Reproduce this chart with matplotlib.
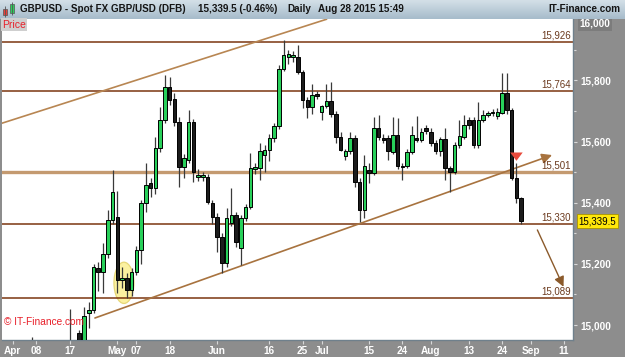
import numpy as np
import pandas as pd
import matplotlib
matplotlib.use("Agg")
import matplotlib.pyplot as plt
from matplotlib.patches import Ellipse, Rectangle
import matplotlib.transforms as mtransforms

plt.rcParams['font.family'] = ['Liberation Sans', 'DejaVu Sans']

# GBPUSD daily candles, Apr 1 - Aug 28 2015 (price x 10000)
opens = [14850, 14860, 14900, 14900, 14880, 14820, 14790, 14710, 14650, 14620,
         14780, 14840, 14940, 14900, 14974, 14930, 15040, 15050, 15185, 15174,
         15233, 15344, 15354, 15148, 15154, 15115, 15174, 15246, 15400, 15465,
         15449, 15579, 15671, 15779, 15740, 15664, 15517, 15540, 15664, 15485,
         15485, 15485, 15400, 15354, 15288, 15203, 15334, 15360, 15252, 15351,
         15386, 15511, 15514, 15556, 15573, 15612, 15651, 15838, 15877, 15877,
         15877, 15828, 15736, 15713, 15756, 15697, 15717, 15733, 15691, 15615,
         15553, 15570, 15612, 15468, 15377, 15507, 15498, 15645, 15612, 15612,
         15566, 15622, 15521, 15521, 15566, 15612, 15606, 15645, 15632, 15596,
         15570, 15609, 15514, 15501, 15589, 15615, 15671, 15671, 15589, 15671,
         15687, 15694, 15684, 15694, 15759, 15704, 15481, 15416]
highs = [14880, 14920, 14930, 14920, 14962, 14870, 14800, 14730, 14690, 14790,
         14860, 14920, 15053, 14940, 14985, 15060, 15075, 15200, 15205, 15269,
         15377, 15507, 15440, 15190, 15170, 15185, 15260, 15410, 15530, 15480,
         15615, 15713, 15818, 15812, 15760, 15680, 15560, 15704, 15675, 15510,
         15500, 15495, 15410, 15365, 15300, 15383, 15449, 15370, 15360, 15395,
         15563, 15530, 15596, 15590, 15625, 15660, 15850, 15933, 15900, 15895,
         15916, 15835, 15745, 15790, 15765, 15720, 15790, 15795, 15700, 15630,
         15575, 15630, 15620, 15480, 15556, 15530, 15680, 15687, 15625, 15620,
         15680, 15678, 15530, 15575, 15651, 15684, 15645, 15655, 15645, 15605,
         15615, 15645, 15520, 15600, 15671, 15687, 15680, 15680, 15730, 15704,
         15700, 15705, 15710, 15825, 15825, 15710, 15530, 15420]
lows = [14780, 14830, 14780, 14830, 14800, 14760, 14700, 14630, 14570, 14600,
        14760, 14820, 14880, 14850, 14900, 14910, 14990, 15040, 15110, 15105,
        15220, 15330, 15105, 15120, 15089, 15095, 15165, 15200, 15370, 15420,
        15430, 15565, 15660, 15720, 15650, 15452, 15481, 15530, 15468, 15470,
        15472, 15395, 15330, 15239, 15171, 15190, 15325, 15255, 15197, 15340,
        15380, 15495, 15475, 15500, 15535, 15600, 15640, 15830, 15855, 15860,
        15820, 15710, 15678, 15690, 15740, 15670, 15710, 15680, 15596, 15570,
        15540, 15560, 15450, 15338, 15351, 15465, 15490, 15605, 15595, 15540,
        15560, 15510, 15475, 15515, 15560, 15600, 15600, 15625, 15585, 15560,
        15553, 15475, 15436, 15495, 15580, 15610, 15640, 15580, 15580, 15665,
        15680, 15685, 15675, 15690, 15690, 15475, 15400, 15330]
closes = [14860, 14900, 14900, 14880, 14820, 14790, 14710, 14650, 14620, 14780,
          14840, 14900, 14900, 14925, 14930, 15030, 15050, 15190, 15175, 15233,
          15344, 15436, 15148, 15154, 15115, 15174, 15246, 15400, 15458, 15449,
          15579, 15671, 15779, 15736, 15664, 15517, 15547, 15664, 15501, 15491,
          15491, 15403, 15354, 15288, 15203, 15351, 15360, 15272, 15351, 15386,
          15514, 15517, 15570, 15573, 15612, 15651, 15838, 15883, 15887, 15883,
          15828, 15736, 15713, 15753, 15750, 15717, 15733, 15691, 15615, 15573,
          15570, 15612, 15468, 15377, 15521, 15498, 15645, 15615, 15606, 15570,
          15622, 15521, 15517, 15566, 15622, 15606, 15632, 15635, 15596, 15570,
          15609, 15514, 15501, 15589, 15619, 15655, 15655, 15589, 15671, 15687,
          15694, 15697, 15697, 15759, 15704, 15481, 15416, 15339.5]

# horizontal support / resistance levels
levels = [15926, 15764, 15501, 15330, 15089]
level_labels = ['15,926', '15,764', '15,501', '15,330', '15,089']

# trend lines: (bar number, price)
upper_bars = [-2.7, 66.0]
upper_prices = [15658, 16000]
lower_bars = [17.3, 113.5]
lower_prices = [15023, 15556]
down_bars = [110.4, 115.9]
down_prices = [15311, 15125]

tick_dates = ['2015-04-01', '2015-04-08', '2015-04-17', '2015-05-01', '2015-05-07',
              '2015-05-18', '2015-06-01', '2015-06-16', '2015-06-25', '2015-07-01',
              '2015-07-15', '2015-07-24', '2015-08-03', '2015-08-13', '2015-08-24',
              '2015-09-01', '2015-09-11']
tick_labels = ['Apr', '08', '17', 'May', '07', '18', 'Jun', '16', '25', 'Jul',
               '15', '24', 'Aug', '13', '24', 'Sep', '11']

price_ticks = [15000, 15200, 15400, 15600, 15800]
price_tick_labels = ['15,000', '15,200', '15,400', '15,600', '15,800']

days = pd.bdate_range('2015-04-01', '2015-09-18', freq='C', holidays=['2015-09-07'])
tick_pos = [days.get_loc(pd.Timestamp(d)) for d in tick_dates]

W, H = 625, 357
GRAY = '#8d8d8d'
fig = plt.figure(figsize=(W / 100, H / 100), dpi=100, facecolor=GRAY)
ax = fig.add_axes([2 / W, 17 / H, 571 / W, 321 / H], facecolor='white')

x = np.arange(len(opens))
o = np.array(opens); c = np.array(closes)
hi = np.array(highs); lo = np.array(lows)
up = c >= o

# yellow highlight of the double bottom
ax.add_patch(Ellipse((23.4, 15138), 4.2, 135, facecolor='#fbf1a0', edgecolor='#e6d777',
                     lw=0.9, zorder=1))

# levels
for lv in levels:
    if lv == 15501:
        ax.axhline(lv, color='#c49a70', lw=2.4, zorder=2)
    else:
        ax.axhline(lv, color='#7a3510', lw=1.1, zorder=2)
for lv, lb in zip(levels, level_labels):
    ax.text(117.4, lv + 5, lb, ha='right', va='bottom', fontsize=7, color='#6b3a1e', zorder=6)

# channel
ax.plot(upper_bars, upper_prices, color='#b88652', lw=1.2, zorder=2)
ax.annotate('', xy=(lower_bars[1], lower_prices[1]), xytext=(lower_bars[0], lower_prices[0]),
            arrowprops=dict(arrowstyle='-|>,head_length=0.6,head_width=0.3', color='#a8733f',
                            lw=1.2, shrinkA=0, shrinkB=0), zorder=2)
ax.annotate('', xy=(down_bars[1], down_prices[1]), xytext=(down_bars[0], down_prices[0]),
            arrowprops=dict(arrowstyle='-|>,head_length=0.6,head_width=0.3', color='#8b5a2b',
                            lw=1.0, shrinkA=0, shrinkB=0), zorder=2)

# candles
ax.vlines(x, lo, hi, color='#3a3a3a', lw=0.9, zorder=3)
body_lo = np.minimum(o, c)
body_h = np.maximum(np.abs(c - o), 4)
ax.bar(x[up], body_h[up], bottom=body_lo[up], width=0.75, color='#28d05a',
       edgecolor='black', lw=0.7, zorder=4)
ax.bar(x[~up], body_h[~up], bottom=body_lo[~up], width=0.75, color='#1c1c1c',
       edgecolor='black', lw=0.7, zorder=4)

# red signal arrow
ax.annotate('', xy=(106, 15528), xytext=(106, 15572),
            arrowprops=dict(arrowstyle='simple,head_width=0.9,head_length=0.6,tail_width=0.4',
                            color='#e84a3c', lw=0), zorder=5)

ax.set_xlim(-2.26, 117.9)
ax.set_ylim(14951, 16001)

ax.yaxis.tick_right()
ax.set_yticks(price_ticks)
ax.set_yticklabels(price_tick_labels)
ax.set_yticks(np.arange(15100, 16000, 200), minor=True)
ax.tick_params(axis='y', which='both', colors='#d8d8d8', labelcolor='white', length=3,
               width=0.8, pad=2)
ax.tick_params(axis='y', which='minor', length=2)
for lab in ax.get_yticklabels():
    lab.set_fontweight('bold'); lab.set_fontsize(7.2)

ax.set_xticks(tick_pos)
ax.set_xticklabels(tick_labels)
ax.tick_params(axis='x', colors='#d8d8d8', labelcolor='white', length=3, width=0.8, pad=1)
for lab in ax.get_xticklabels():
    lab.set_fontweight('bold'); lab.set_fontsize(7.2)

for s in ['top', 'left']:
    ax.spines[s].set_visible(False)
for s in ['bottom', 'right']:
    ax.spines[s].set_color('#6f808c'); ax.spines[s].set_linewidth(1.0)

trans = mtransforms.blended_transform_factory(ax.transAxes, ax.transData)
ax.text(1.012, 16001, '16,000', transform=trans, ha='left', va='top', fontsize=7.2,
        fontweight='bold', color='white', clip_on=False,
        bbox=dict(facecolor='#7c7c7c', edgecolor='none', pad=1.2))
ax.text(1.01, closes[-1], '15,339.5', transform=trans, ha='left', va='center', fontsize=7,
        color='black', clip_on=False,
        bbox=dict(boxstyle='square,pad=0.2', facecolor='#ffe70a', edgecolor='#a89400', lw=0.6))

ax.text(0.003, 0.04, '\u00a9 IT-Finance.com', transform=ax.transAxes, fontsize=7.3,
        color='#e8202a', ha='left', va='bottom', zorder=6)

# header bar
hax = fig.add_axes([0, 1 - 19 / H, 1, 19 / H])
grad = np.linspace(0, 1, 20).reshape(-1, 1)
hax.imshow(grad, cmap=matplotlib.colors.LinearSegmentedColormap.from_list(
    'hdr', ['#d3dfe7', '#a7bccb']), extent=[0, W, 19, 0], aspect='auto')
hax.set_xlim(0, W); hax.set_ylim(19, 0); hax.axis('off')
hax.add_patch(Rectangle((2.5, 8.5), 4, 6, facecolor='#e8403a', edgecolor='#555', lw=0.5))
hax.vlines([4.5], 6, 17, color='#555', lw=0.6)
hax.add_patch(Rectangle((10, 4), 4, 9, facecolor='#2ad05a', edgecolor='#555', lw=0.5))
hax.vlines([12], 2, 15, color='#555', lw=0.6)
hfont = dict(fontsize=7.1, fontweight='bold', color='#151515', va='center')
hax.text(20, 9.5, 'GBPUSD - Spot FX GBP/USD (DFB)', ha='left', **hfont)
hax.text(198, 9.5, '15,339.5 (-0.46%)', ha='left', **hfont)
hax.text(287, 9.5, 'Daily', ha='left', **hfont)
hax.text(318, 9.5, 'Aug 28 2015 15:49', ha='left', **hfont)
hax.text(620, 9.5, 'IT-Finance.com', ha='right', **hfont)

fig.text(2 / W, 1 - 24.5 / H, 'Price', fontsize=7.5, color='#e8202a', ha='left', va='center',
         bbox=dict(facecolor='#cfcfcf', edgecolor='none', pad=1.0))

fig.savefig('out.png', dpi=100, facecolor=GRAY)
